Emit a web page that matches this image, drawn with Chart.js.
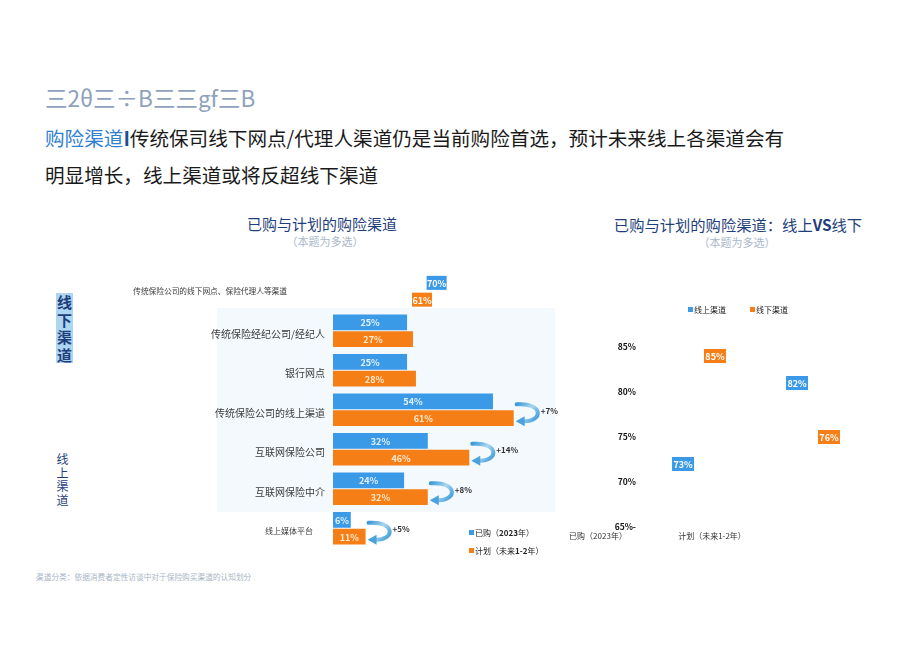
<!DOCTYPE html>
<html lang="zh">
<head>
<meta charset="utf-8">
<script src="https://cdn.jsdelivr.net/npm/chart.js@4/dist/chart.umd.min.js"></script>
<style>
  body { margin: 0; width: 920px; height: 651px; background: #fff; position: relative; overflow: hidden; font-family: "Noto Sans CJK SC", sans-serif; }
  .t { position: absolute; white-space: nowrap; }
  canvas { position: absolute; }
  .sq { display: inline-block; width: 5px; height: 5px; margin-right: 1px; vertical-align: 1px; }
</style>
</head>
<body>
<div class="t" style="left:45px;top:82px;font-size:22.5px;line-height:30px;color:#8ea2bd;">三2θ三÷B三三gf三B</div>
<div class="t" style="left:45px;top:124px;font-size:19.6px;line-height:28px;color:#1a1a1a;"><span style="color:#2f80d1">购险渠道</span><span style="color:#1f4f95;font-weight:bold">I</span>传统保司线下网点/代理人渠道仍是当前购险首选，预计未来线上各渠道会有</div>
<div class="t" style="left:45px;top:161px;font-size:19.6px;line-height:28px;color:#1a1a1a;">明显增长，线上渠道或将反超线下渠道</div>

<div class="t" style="left:222px;top:213px;width:200px;text-align:center;font-size:15px;line-height:22px;color:#1f3f7c;">已购与计划的购险渠道</div>
<div class="t" style="left:275px;top:234px;width:100px;text-align:center;font-size:11px;line-height:14px;color:#a8b7ca;">（本题为多选）</div>
<div class="t" style="left:598px;top:213px;width:280px;text-align:center;font-size:15.3px;line-height:22px;color:#1f3f7c;">已购与计划的购险渠道：线上<b>VS</b>线下</div>
<div class="t" style="left:687px;top:235px;width:100px;text-align:center;font-size:11px;line-height:14px;color:#a8b7ca;">（本题为多选）</div>

<div style="position:absolute;left:217px;top:308px;width:338px;height:204px;background:#f4f9fd;"></div>
<div class="t" style="left:56px;top:293px;width:17px;background:#acd6f3;color:#1f3f7c;font-weight:bold;font-size:15px;line-height:17.5px;text-align:center;white-space:normal;">线<br>下<br>渠<br>道</div>
<div class="t" style="left:56px;top:452px;width:13px;color:#1f3f7c;font-size:12px;line-height:13.5px;text-align:center;white-space:normal;">线<br>上<br>渠<br>道</div>

<canvas id="leftChart" width="450" height="295" style="left:120px;top:262px;"></canvas>
<canvas id="rightChart" width="340" height="252" style="left:560px;top:290px;"></canvas>

<div class="t" style="left:469px;top:527px;font-size:8px;line-height:12px;color:#222;"><span class="sq" style="background:#3a9ae8"></span>已购（<b>2023</b>年）</div>
<div class="t" style="left:469px;top:545px;font-size:8px;line-height:12px;color:#222;"><span class="sq" style="background:#f57e16"></span>计划（未来<b>1-2</b>年）</div>
<div class="t" style="left:688px;top:304px;font-size:8px;line-height:12px;color:#222;"><span class="sq" style="background:#3a9ae8"></span>线上渠道</div>
<div class="t" style="left:750px;top:304px;font-size:8px;line-height:12px;color:#222;"><span class="sq" style="background:#f57e16"></span>线下渠道</div>

<div class="t" style="left:36px;top:571px;font-size:7.7px;line-height:12px;color:#a9b5c5;">渠道分类：依据消费者定性访谈中对于保险购买渠道的认知划分</div>

<script>
const BLUE = "#3a9ae8";
const ORANGE = "#f57e16";
const FONT = "'Noto Sans CJK SC', sans-serif";

// 左图：已购与计划的购险渠道
const channels = ["传统保险公司的线下网点、保险代理人等渠道", "传统保险经纪公司/经纪人", "银行网点", "传统保险公司的线上渠道", "互联网保险公司", "互联网保险中介", "线上媒体平台"];
const bought = [70, 25, 25, 54, 32, 24, 6];
const planned = [61, 27, 28, 61, 46, 32, 11];
const growth = [null, null, null, "+7%", "+14%", "+8%", "+5%"];

// 右图：线上VS线下
const periods = ["已购（2023年）", "计划（未来1-2年）"];
const onlineShare = [73, 82];
const offlineShare = [85, 76];
const shareTicks = { 65: "65%-", 70: "70%", 75: "75%", 80: "80%", 85: "85%" };

// 第一类渠道在原图里用的是另一个比例，单独挂在 x2 轴上
const firstOnly = (arr) => arr.map((v, i) => (i === 0 ? v : null));
const restOnly = (arr) => arr.map((v, i) => (i === 0 ? null : v));

const barLabels = {
  id: "barLabels",
  afterDatasetsDraw(chart) {
    const ctx = chart.ctx;
    ctx.save();
    ctx.textBaseline = "middle";
    ctx.textAlign = "center";
    chart.data.datasets.forEach((ds, d) => {
      const meta = chart.getDatasetMeta(d);
      meta.data.forEach((bar, i) => {
        const v = ds.data[i];
        if (v === null || v === undefined) return;
        ctx.font = "bold 9px " + FONT;
        if (ds.boxAt === "end") {
          ctx.fillStyle = ds.boxColor;
          ctx.fillRect(bar.x - 20, bar.y - 7, 20, 14);
          ctx.fillStyle = "#fff";
          ctx.fillText(v + "%", bar.x - 10, bar.y + 0.5);
        } else if (ds.boxAt === "below") {
          ctx.fillStyle = ds.boxColor;
          ctx.fillRect(bar.x - 11, bar.y + 2, 22, 14);
          ctx.fillStyle = "#fff";
          ctx.fillText(v + "%", bar.x, bar.y + 9.5);
        } else {
          ctx.fillStyle = ds.textColor;
          ctx.fillText(v + "%", (bar.x + bar.base) / 2, bar.y + 0.5);
        }
      });
    });
    ctx.restore();
  },
};

const channelLabels = {
  id: "channelLabels",
  afterDraw(chart) {
    const ctx = chart.ctx;
    const left = chart.chartArea.left;
    const y = chart.scales.y;
    ctx.save();
    ctx.textAlign = "right";
    ctx.textBaseline = "middle";
    ctx.fillStyle = "#3a3a3a";
    channels.forEach((name, i) => {
      const cy = y.getPixelForValue(i);
      if (i === 0) {
        ctx.font = "7.7px " + FONT;
        ctx.fillText(name, left - 46, cy);
      } else if (i === channels.length - 1) {
        ctx.font = "8px " + FONT;
        ctx.fillText(name, left - 20, cy + 3);
      } else {
        ctx.font = "10px " + FONT;
        ctx.fillText(name, left - 8, cy + 3);
      }
    });
    ctx.restore();
  },
};

// 线上渠道的增长箭头
const growthArrows = {
  id: "growthArrows",
  afterDatasetsDraw(chart) {
    const ctx = chart.ctx;
    const mb = chart.getDatasetMeta(0).data;
    const mp = chart.getDatasetMeta(1).data;
    ctx.save();
    growth.forEach((g, i) => {
      if (!g) return;
      const b = mb[i], p = mp[i];
      const x0 = Math.max(b.x, p.x) + 3;
      const y0 = b.y + 3;
      const y1 = p.y + 3;
      const grad = ctx.createLinearGradient(x0, y0, x0 + 20, y1);
      grad.addColorStop(0, "#3d9ad8");
      grad.addColorStop(0.5, "#a9d6f2");
      grad.addColorStop(1, "#3d9ad8");
      ctx.strokeStyle = grad;
      ctx.lineWidth = 4;
      ctx.lineCap = "round";
      ctx.beginPath();
      ctx.moveTo(x0, y0);
      ctx.bezierCurveTo(x0 + 27, y0 - 2, x0 + 27, y1 + 1, x0 + 6, y1);
      ctx.stroke();
      ctx.fillStyle = "#4aa3dd";
      ctx.beginPath();
      ctx.moveTo(x0 - 1, y1);
      ctx.lineTo(x0 + 8, y1 - 5);
      ctx.lineTo(x0 + 8, y1 + 5);
      ctx.closePath();
      ctx.fill();
      ctx.fillStyle = "#333";
      ctx.font = "bold 8px " + FONT;
      ctx.textAlign = "left";
      ctx.textBaseline = "middle";
      ctx.fillText(g, x0 + 24, (b.y + p.y) / 2 + 1);
    });
    ctx.restore();
  },
};

new Chart(document.getElementById("leftChart"), {
  type: "bar",
  data: {
    labels: channels,
    datasets: [
      { label: "已购（2023年）", data: restOnly(bought), backgroundColor: BLUE, textColor: "#e3f1ff", xAxisID: "x" },
      { label: "计划（未来1-2年）", data: restOnly(planned), backgroundColor: ORANGE, textColor: "#ffeacc", xAxisID: "x" },
      { label: "已购", data: firstOnly(bought), backgroundColor: "rgba(0,0,0,0)", boxAt: "end", boxColor: BLUE, xAxisID: "x2" },
      { label: "计划", data: firstOnly(planned), backgroundColor: "rgba(0,0,0,0)", boxAt: "end", boxColor: ORANGE, xAxisID: "x2" },
    ],
  },
  options: {
    responsive: false,
    animation: false,
    indexAxis: "y",
    skipNull: true,
    categoryPercentage: 0.85,
    barPercentage: 0.95,
    layout: { padding: { left: 213, right: 0, top: 9.5, bottom: 9 } },
    plugins: { legend: { display: false }, tooltip: { enabled: false } },
    scales: {
      y: { display: false },
      x: { display: false, min: 0, max: 80 },
      x2: { display: false, min: 0, max: 146 },
    },
  },
  plugins: [barLabels, channelLabels, growthArrows],
});

new Chart(document.getElementById("rightChart"), {
  type: "bar",
  data: {
    labels: periods,
    datasets: [
      { label: "线上渠道", data: onlineShare, backgroundColor: "rgba(0,0,0,0)", boxAt: "below", boxColor: BLUE },
      { label: "线下渠道", data: offlineShare, backgroundColor: "rgba(0,0,0,0)", boxAt: "below", boxColor: ORANGE },
    ],
  },
  options: {
    responsive: false,
    animation: false,
    categoryPercentage: 0.56,
    barPercentage: 1,
    layout: { padding: { left: 0, right: 30, top: 57, bottom: 0 } },
    plugins: { legend: { display: false }, tooltip: { enabled: false } },
    scales: {
      x: {
        grid: { display: false, drawTicks: false },
        border: { display: false },
        ticks: { labelOffset: -101, padding: 4, maxRotation: 0, color: "#333", font: { size: 8, family: FONT } },
        afterFit(s) { s.height = 15; },
      },
      y: {
        min: 65,
        max: 85,
        grid: { display: false, drawTicks: false },
        border: { display: false },
        ticks: { stepSize: 5, padding: 6, color: "#111", font: { size: 8.5, weight: "bold", family: FONT }, callback: (v) => shareTicks[v] },
        afterFit(s) { s.width = 82; },
      },
    },
  },
  plugins: [barLabels],
});
</script>
</body>
</html>
